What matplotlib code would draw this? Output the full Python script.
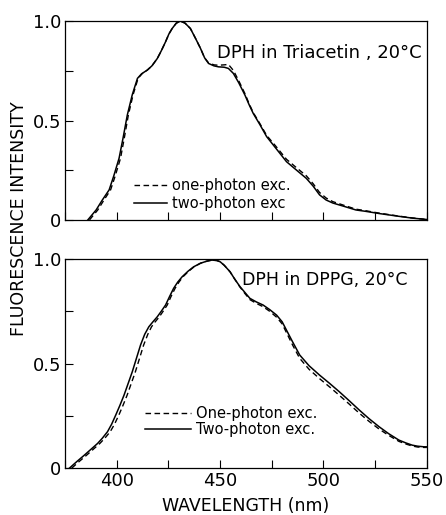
import matplotlib
matplotlib.use("Agg")
import matplotlib.pyplot as plt
from matplotlib.ticker import MultipleLocator

# DPH in triacetin, 20 C
tri_wl_two = [386, 390, 393, 396.3, 398.5, 401.1, 403, 405.1, 407.5, 410, 412, 414.8, 417, 419.6, 421.5,
              423.6, 425.2, 426.8, 428.8, 430.8, 433, 435.6, 438, 440.4, 442.5, 444.4, 447, 449.2, 452,
              454, 456.4, 459, 462, 464, 466, 469.2, 472.5, 477, 482.1, 487, 491.7, 495, 498.1, 501.3,
              504.5, 510, 515.7, 520.5, 527, 536.5, 543, 550]
tri_two = [0.0, 0.05, 0.10, 0.151, 0.22, 0.31, 0.41, 0.528, 0.63, 0.712, 0.735, 0.754, 0.775, 0.812, 0.85,
           0.896, 0.935, 0.963, 0.99, 1.0, 0.99, 0.963, 0.915, 0.865, 0.815, 0.787, 0.775, 0.77, 0.768,
           0.762, 0.737, 0.69, 0.628, 0.58, 0.536, 0.48, 0.419, 0.36, 0.293, 0.25, 0.209, 0.17, 0.126,
           0.10, 0.085, 0.068, 0.05, 0.043, 0.032, 0.018, 0.009, 0.002]
tri_wl_one = [386.8, 390.8, 393.8, 397, 399.2, 401.8, 403.6, 405.6, 407.9, 410.3, 412.2, 414.8, 417, 419.6,
              421.5, 423.6, 425.2, 426.8, 428.8, 430.8, 433, 435.6, 438, 440.4, 442.5, 444.4, 447, 449.2,
              452, 454, 456.4, 459, 462, 464, 466, 469.2, 472.5, 477, 482.1, 487, 491.7, 495, 498.1,
              501.3, 504.5, 510, 515.7, 520.5, 527, 536.5, 543, 550]
tri_one = [0.0, 0.05, 0.10, 0.151, 0.22, 0.31, 0.41, 0.528, 0.63, 0.712, 0.735, 0.754, 0.775, 0.812, 0.85,
           0.896, 0.935, 0.963, 0.99, 1.0, 0.99, 0.963, 0.915, 0.865, 0.815, 0.79, 0.78, 0.778, 0.78,
           0.782, 0.752, 0.70, 0.635, 0.585, 0.54, 0.485, 0.425, 0.37, 0.305, 0.262, 0.222, 0.182, 0.138,
           0.11, 0.092, 0.073, 0.054, 0.046, 0.034, 0.019, 0.01, 0.002]

# DPH in DPPG, 20 C
dppg_wl_two = [377.1, 380.5, 384.3, 387.5, 390.7, 393, 395.5, 397.5, 399.5, 401.5, 403.5, 405.5, 407.5,
               409.5, 411.5, 413.5, 415.5, 417.5, 419.6, 421.5, 423.6, 425.5, 427.5, 429.5, 431.6, 434.5,
               437.2, 440.5, 443.6, 446, 448.4, 450, 452, 454.8, 457, 459.6, 462, 464.4, 467.5, 470.8,
               474, 477.3, 480, 482.1, 485, 488.5, 493, 498.1, 503, 507.7, 512.5, 517.3, 522, 526.9,
               531.5, 536.5, 540, 542.9, 545.5, 548.6, 550]
dppg_two = [0.0, 0.03, 0.062, 0.09, 0.118, 0.143, 0.174, 0.21, 0.254, 0.30, 0.349, 0.405, 0.461, 0.525,
            0.589, 0.64, 0.676, 0.70, 0.724, 0.75, 0.78, 0.82, 0.86, 0.89, 0.915, 0.942, 0.963, 0.98,
            0.99, 0.995, 0.993, 0.987, 0.97, 0.939, 0.905, 0.868, 0.84, 0.812, 0.795, 0.78, 0.758, 0.732,
            0.70, 0.66, 0.605, 0.541, 0.49, 0.445, 0.405, 0.365, 0.322, 0.278, 0.237, 0.198, 0.165,
            0.134, 0.12, 0.11, 0.105, 0.102, 0.102]
dppg_wl_one = [378.2, 381.6, 385.4, 388.6, 391.8, 394.2, 396.8, 398.9, 401, 403, 405, 407, 409, 411,
               413, 415, 416.8, 418.6, 420.6, 422.4, 424.4, 426.2, 428.2, 430.1, 432, 434.8, 437.4, 440.5,
               443.6, 446, 448.4, 450, 452, 454.8, 457, 459.6, 462, 464.4, 467.5, 470.8, 474, 477.3, 480,
               482.1, 485, 488.5, 493, 498.1, 503, 507.7, 512.5, 517.3, 522, 526.9, 531.5, 536.5, 540,
               542.9, 545.5, 548.6, 550]
dppg_one = [0.0, 0.03, 0.062, 0.09, 0.118, 0.143, 0.174, 0.21, 0.254, 0.30, 0.349, 0.405, 0.461, 0.525,
            0.589, 0.64, 0.676, 0.70, 0.724, 0.75, 0.78, 0.82, 0.86, 0.89, 0.915, 0.942, 0.963, 0.98,
            0.99, 0.995, 0.993, 0.987, 0.97, 0.939, 0.905, 0.866, 0.835, 0.806, 0.788, 0.772, 0.75,
            0.722, 0.69, 0.648, 0.59, 0.525, 0.473, 0.428, 0.388, 0.348, 0.306, 0.263, 0.224, 0.187,
            0.157, 0.128, 0.115, 0.106, 0.101, 0.099, 0.099]

plt.rcParams['font.family'] = ['DejaVu Sans']

fig = plt.figure(figsize=(4.46, 5.15), dpi=100)
ax1 = fig.add_axes([0.146, 0.573, 0.811, 0.386])
ax2 = fig.add_axes([0.146, 0.091, 0.811, 0.406])

for ax in (ax1, ax2):
    ax.set_xlim(375, 550)
    ax.set_ylim(0, 1.0)
    ax.xaxis.set_major_locator(MultipleLocator(50))
    ax.xaxis.set_minor_locator(MultipleLocator(25))
    ax.yaxis.set_major_locator(MultipleLocator(0.5))
    ax.yaxis.set_minor_locator(MultipleLocator(0.25))
    ax.tick_params(which='both', direction='in', top=False, right=False, width=0.8, length=6,
                   labelsize=13, pad=3)
    ax.set_yticks([0, 0.5, 1.0])
    ax.set_yticklabels(['0', '0.5', '1.0'])
    for sp in ax.spines.values():
        sp.set_linewidth(0.9)

ax1.tick_params(axis='x', labelbottom=False)

ax1.plot(tri_wl_one, tri_one, color='black', lw=1.0, ls=(0, (4, 2.5)), label='one-photon exc.')
ax1.plot(tri_wl_two, tri_two, color='black', lw=1.1, label='two-photon exc')
ax1.text(0.985, 0.84, 'DPH in Triacetin , 20°C', transform=ax1.transAxes, ha='right', va='center',
         fontsize=13)
ax1.legend(loc='upper left', bbox_to_anchor=(0.17, 0.245), frameon=False, fontsize=10.5,
           handlelength=2.3, handletextpad=0.3, labelspacing=0.2, borderpad=0.0)

ax2.plot(dppg_wl_one, dppg_one, color='black', lw=1.0, ls=(0, (4, 2.5)), label='One-photon exc.')
ax2.plot(dppg_wl_two, dppg_two, color='black', lw=1.1, label='Two-photon exc.')
ax2.text(0.49, 0.9, 'DPH in DPPG, 20°C', transform=ax2.transAxes, ha='left', va='center',
         fontsize=12.5)
ax2.legend(loc='upper left', bbox_to_anchor=(0.2, 0.33), frameon=False, fontsize=10.5,
           handlelength=3.2, handletextpad=0.3, labelspacing=0.05, borderpad=0.0)
ax2.set_xticks([400, 450, 500, 550])
ax2.set_xlabel('WAVELENGTH (nm)', fontsize=12.5, labelpad=5)

fig.text(0.042, 0.575, 'FLUORESCENCE INTENSITY', rotation=90, ha='center', va='center', fontsize=12.5)

fig.savefig('out.png', dpi=100)
